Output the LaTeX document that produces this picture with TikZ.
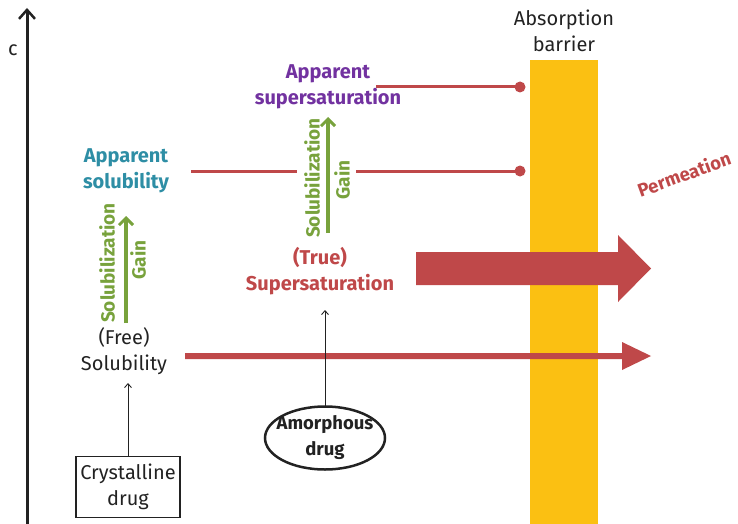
\documentclass[tikz,border=0pt]{standalone}
\usepackage{fontspec}
\setmainfont{Fira Sans}
\usetikzlibrary{arrows.meta,shapes.geometric}
\definecolor{barY}{HTML}{FBC012}
\definecolor{rd}{HTML}{BF4849}
\definecolor{tl}{HTML}{2E8EA5}
\definecolor{pp}{HTML}{7232A0}
\definecolor{gn}{HTML}{78A23C}
\definecolor{tx}{HTML}{222222}
\begin{document}
\begin{tikzpicture}[x=1pt,y=-1pt,
  lbl/.style={align=center, font=\fontsize{20}{26.5}\selectfont, text=tx, inner sep=0pt},
  blbl/.style={align=center, font=\fontsize{20}{26.5}\selectfont\bfseries, inner sep=0pt},
  glbl/.style={font=\fontsize{19}{20}\selectfont\bfseries, text=gn, rotate=90, inner sep=0pt},
  redline/.style={rd, line width=3pt},
  gainarrow/.style={gn, line width=3.5pt, -{Straight Barb[length=7pt,width=14pt,line width=3pt]}},
  thinarrow/.style={tx, line width=0.9pt, -{Straight Barb[length=4pt,width=7pt]}}
]
\useasboundingbox (0,0) rectangle (738,524);
% barrier
\fill[barY] (530,60) rectangle (598,524);
\node[lbl] (barrier) at (564,31) {Absorption\\barrier};
% axis
\draw[tx, line width=3pt, -{Straight Barb[length=9pt,width=16pt,line width=2.5pt]}] (27,524) -- (27,8);
\node[lbl] (c) at (13,50) {c};
% labels
\node[blbl, text=pp] (appsup) at (328,87) {Apparent\\supersaturation};
\node[blbl, text=tl] (appsol) at (126,171) {Apparent\\solubility};
\node[lbl] (free) at (124,351) {(Free)\\Solubility};
\node[blbl, text=rd] (true) at (320,271) {(True)\\Supersaturation};
\node[font=\fontsize{18.5}{20}\selectfont\bfseries, text=rd, rotate=20, inner sep=0pt] (perm) at (684,174) {Permeation};
% gain arrows
\draw[gainarrow] (126,323) -- (126,216);
\node[glbl] (sol1) at (107,263) {Solubilization};
\node[glbl] (gain1) at (138,260) {Gain};
\draw[gainarrow] (328,233) -- (328,117);
\node[glbl] (sol2) at (312,178) {Solubilization};
\node[glbl] (gain2) at (342,180) {Gain};
% red level lines
\coordinate (d1) at (520,87);
\coordinate (d2) at (520,171);
\coordinate (m1) at (191,171);
\coordinate (m2) at (297,171);
\coordinate (m3) at (356,171);
\coordinate (t1) at (376,87);
\draw[redline] (t1) -- (d1);
\fill[rd] (d1) circle (5.5);
\draw[redline] (m1) -- (m2);
\draw[redline] (m3) -- (d2);
\fill[rd] (d2) circle (5.5);
% big arrow
\fill[rd] (416,252) -- (618,252) -- (618,235) -- (651,268.5) -- (618,302) -- (618,285) -- (416,285) -- cycle;
% thin permeation arrow
\fill[rd] (185,353) -- (622,353) -- (622,342) -- (651,356) -- (622,370) -- (622,359) -- (185,359) -- cycle;
% sources
\node[lbl, draw=tx, line width=1.1pt, minimum width=104pt, minimum height=61pt] (cryst) at (128,487) {Crystalline\\drug};
\node[align=center, font=\fontsize{18.5}{26}\selectfont\bfseries, text=tx, inner sep=0pt] (amor) at (325,438) {Amorphous\\drug};
\draw[tx, line width=2.5pt] (amor.center) ellipse [x radius=60, y radius=31.5];
\coordinate (amortop) at (325,406.5);
\draw[thinarrow] (cryst.north) -- (128,383);
\draw[thinarrow] (amortop) -- (325,310);
\end{tikzpicture}
\end{document}
